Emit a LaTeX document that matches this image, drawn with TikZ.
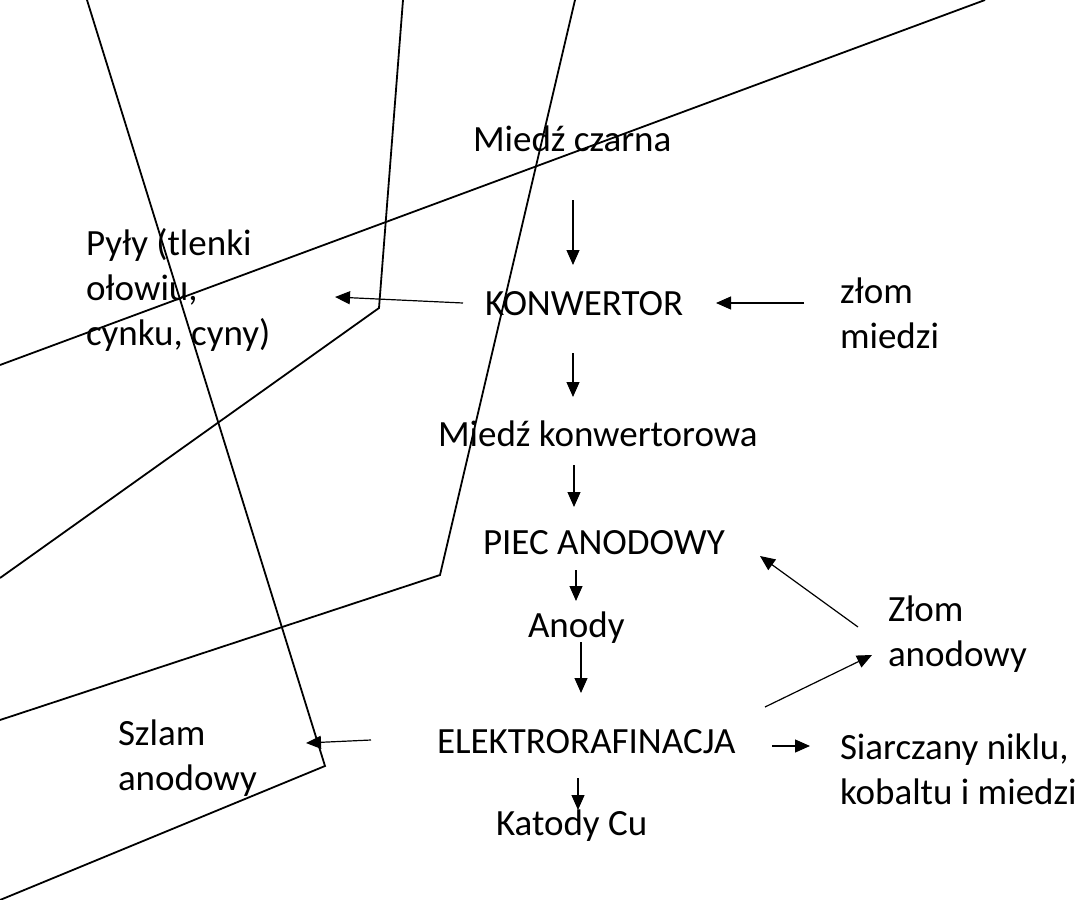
\documentclass[tikz,border=0pt]{standalone}
\usepackage{fontspec}
\setmainfont{Carlito}
\usetikzlibrary{arrows.meta}

\tikzset{
  label/.style={anchor=base west, inner sep=0pt, outer sep=0pt,
    font=\fontsize{37}{45}\selectfont},
  flow/.style={line width=1.2pt, -{Triangle[length=15pt,width=13pt]}},
  stroke/.style={line width=1.8pt, line join=miter}
}

\begin{document}
\begin{tikzpicture}[x=1pt, y=-1pt]
  \useasboundingbox (0,0) rectangle (1088,900);
  \clip (0,0) rectangle (1088,900);

  % free-standing outline strokes
  \draw[stroke] (985,0) -- (0,365);
  \draw[stroke] (87,0) -- (325,766) -- (0,900);
  \draw[stroke] (403,0) -- (379,308) -- (0,578);
  \draw[stroke] (575,0) -- (440,575) -- (0,720);

  % process stages
  \node[label] (czarna) at (473,151) {Miedź czarna};
  \node[label] (konw)   at (485,315) {KONWERTOR};
  \node[label] (mkonw)  at (438,446) {Miedź konwertorowa};
  \node[label] (piec)   at (483,554) {PIEC ANODOWY};
  \node[label] (anody)  at (528,637) {Anody};
  \node[label] (elek)   at (437,753) {ELEKTRORAFINACJA};
  \node[label] (katody) at (496,835) {Katody Cu};

  % inputs and by-products
  \node[label] (pyly)   at (86,255)  {\vtop{\hbox{Pyły (tlenki}\hbox{ołowiu,}\hbox{cynku, cyny)}}};
  \node[label] (zlomm)  at (840,303) {\vtop{\hbox{złom}\hbox{miedzi}}};
  \node[label] (zloma)  at (888,621) {\vtop{\hbox{Złom}\hbox{anodowy}}};
  \node[label] (siarcz) at (840,759) {\vtop{\hbox{Siarczany niklu,}\hbox{kobaltu i miedzi}}};
  \node[label] (szlam)  at (118,745) {\vtop{\hbox{Szlam}\hbox{anodowy}}};

  % arrow end points
  \coordinate (a1s) at (573,200); \coordinate (a1e) at (573,265);
  \coordinate (a2s) at (573,353); \coordinate (a2e) at (573,397);
  \coordinate (a3s) at (574,465); \coordinate (a3e) at (574,507);
  \coordinate (a4s) at (576,570); \coordinate (a4e) at (576,601);
  \coordinate (a5s) at (581,642); \coordinate (a5e) at (581,693);
  \coordinate (a6s) at (578,778); \coordinate (a6e) at (578,810);
  \coordinate (pys) at (463,303); \coordinate (pye) at (335,297);
  \coordinate (zms) at (804,303); \coordinate (zme) at (716,303);
  \coordinate (szs) at (371,740); \coordinate (sze) at (306,743);
  \coordinate (sis) at (772,746); \coordinate (sie) at (810,746);
  \coordinate (zps) at (858,627); \coordinate (zpe) at (760,556);
  \coordinate (ezs) at (765,707); \coordinate (eze) at (872,655);

  % main flow
  \draw[flow] (a1s) -- (a1e);
  \draw[flow] (a2s) -- (a2e);
  \draw[flow] (a3s) -- (a3e);
  \draw[flow] (a4s) -- (a4e);
  \draw[flow] (a5s) -- (a5e);
  \draw[flow] (a6s) -- (a6e);

  % side streams
  \draw[flow] (pys) -- (pye);
  \draw[flow] (zms) -- (zme);
  \draw[flow] (szs) -- (sze);
  \draw[flow] (sis) -- (sie);
  \draw[flow] (zps) -- (zpe);
  \draw[flow] (ezs) -- (eze);
\end{tikzpicture}
\end{document}
